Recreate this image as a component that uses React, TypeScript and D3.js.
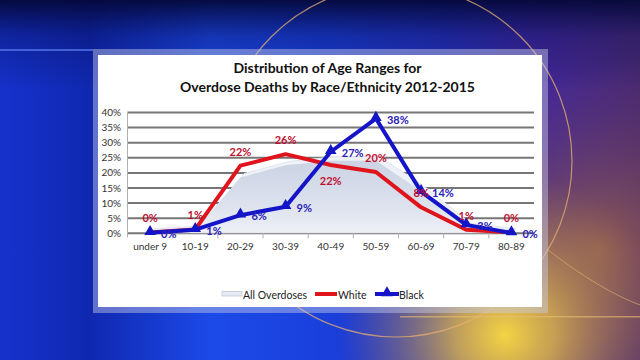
import * as d3 from 'd3';

const CATEGORIES = ['under 9', '10-19', '20-29', '30-39', '40-49', '50-59', '60-69', '70-79', '80-89'];
const ALL_OVERDOSES = [0.3, 1, 18.5, 22.5, 24, 24, 14, 2, 0.2];
const WHITE = [0.3, 1.3, 22.4, 26.2, 22.6, 20.3, 8.6, 1.2, 0.3];
const BLACK = [0.2, 1.2, 6, 8.8, 27, 38, 13.8, 2.8, 0.1];
const WHITE_LABELS = ['0%', '1%', '22%', '26%', '22%', '20%', '8%', '1%', '0%'];
const BLACK_LABELS = ['0%', '1%', '6%', '9%', '27%', '38%', '14%', '3%', '0%'];
const Y_TICKS = [0, 5, 10, 15, 20, 25, 30, 35, 40];
const TITLE = ['Distribution of Age Ranges for', 'Overdose Deaths by Race/Ethnicity 2012-2015'];

const W = 640;
const H = 360;
const PLOT = { left: 127.5, right: 534, top: 112.5, bottom: 233.3 };
const FONT = 'Lato, "Open Sans", sans-serif';
const RED = '#e0141c';
const BLUE = '#1414c8';

export default function App() {
  const x = d3.scaleBand().domain(CATEGORIES).range([PLOT.left, PLOT.right]);
  const y = d3.scaleLinear().domain([0, 40]).range([PLOT.bottom, PLOT.top]);
  const cx = (i: number) => (x(CATEGORIES[i]) as number) + x.bandwidth() / 2;

  const line = d3.line<number>().x((_, i) => cx(i)).y(d => y(d));
  const area = d3.area<number>().x((_, i) => cx(i)).y0(y(0)).y1(d => y(d));
  const tri = d3.symbol().type(d3.symbolTriangle).size(58)();

  // the white series label goes under the point where the lines cross
  const belowIdx = new Set([4]);

  return (
    <svg width={W} height={H} style={{ position: 'absolute', left: 0, top: 0 }}>
      <defs>
        <linearGradient id="bgH" x1="0" x2="1" y1="0" y2="0">
          <stop offset="0" stopColor="#1632cc" />
          <stop offset="0.14" stopColor="#1028b0" />
          <stop offset="0.33" stopColor="#1c4ae8" />
          <stop offset="0.5" stopColor="#1a40dc" />
          <stop offset="0.7" stopColor="#2832bc" />
          <stop offset="0.84" stopColor="#42289c" />
          <stop offset="1" stopColor="#4a2a70" />
        </linearGradient>
        <linearGradient id="bgTop" x1="0" x2="0" y1="0" y2="1">
          <stop offset="0" stopColor="#040838" stopOpacity="0.95" />
          <stop offset="0.1" stopColor="#060c50" stopOpacity="0.35" />
          <stop offset="0.25" stopColor="#060c50" stopOpacity="0" />
        </linearGradient>
        <radialGradient id="glow" cx="505" cy="335" r="165" gradientUnits="userSpaceOnUse">
          <stop offset="0" stopColor="#f4d444" stopOpacity="1" />
          <stop offset="0.3" stopColor="#e0b848" stopOpacity="0.8" />
          <stop offset="1" stopColor="#a07050" stopOpacity="0" />
        </radialGradient>
        <radialGradient id="brown" cx="600" cy="250" r="180" gradientUnits="userSpaceOnUse">
          <stop offset="0" stopColor="#946050" stopOpacity="0.95" />
          <stop offset="1" stopColor="#6a3a60" stopOpacity="0" />
        </radialGradient>
        <linearGradient id="areaFill" x1="0" x2="0" y1="0" y2="1">
          <stop offset="0" stopColor="#c8d0e2" />
          <stop offset="0.6" stopColor="#dae0ec" />
          <stop offset="1" stopColor="#eef0f6" />
        </linearGradient>
      </defs>

      {/* TV backdrop */}
      <rect width={W} height={H} fill="url(#bgH)" />
      <rect width={W} height={H} fill="url(#brown)" />
      <rect width={W} height={H} fill="url(#glow)" />
      <rect width={W} height={H} fill="url(#bgTop)" />
      <rect x={0} y={49} width={93} height={2} fill="#5a7af0" opacity={0.7} />
      <rect x={400} y={316} width={240} height={1.5} fill="#e8c070" opacity={0.6} />
      <circle cx={396} cy={161} r={176} fill="none" stroke="#e8b070" strokeWidth={1.2} opacity={0.75} />
      <path d="M548,250 Q600,290 640,305" fill="none" stroke="#e8b070" strokeWidth={1} opacity={0.6} />

      {/* chart panel */}
      <rect x={93} y={49} width={455} height={264} fill="#c8cce8" opacity={0.45} />
      <rect x={98} y={55} width={444} height={252} fill="#ffffff" />

      {TITLE.map((t, i) => (
        <text key={t} x={327.5} y={73 + i * 18.5} textAnchor="middle" fontFamily={FONT}
          fontWeight={700} fontSize={14} fill="#111">{t}</text>
      ))}

      {/* gridlines */}
      {Y_TICKS.map(t => (
        <g key={t}>
          <line x1={PLOT.left} x2={PLOT.right} y1={y(t)} y2={y(t)} stroke="#767676" strokeWidth={2} />
          <text x={121} y={y(t) + 3.5} textAnchor="end" fontFamily={FONT} fontSize={10} fill="#333">{t}%</text>
        </g>
      ))}
      <line x1={PLOT.left} x2={PLOT.left} y1={PLOT.top} y2={PLOT.bottom + 4} stroke="#b0b0b0" strokeWidth={1} />
      {CATEGORIES.map((c, i) => (
        <g key={c}>
          <line x1={(x(c) as number) + x.bandwidth()} x2={(x(c) as number) + x.bandwidth()}
            y1={PLOT.bottom} y2={PLOT.bottom + 5} stroke="#b0b0b0" strokeWidth={1} />
          <text x={cx(i)} y={250} textAnchor="middle" fontFamily={FONT} fontSize={10} fill="#333">{c}</text>
        </g>
      ))}

      {/* All overdoses: 3D-looking area */}
      <path d={area(ALL_OVERDOSES) ?? ''} transform="translate(4,-4)" fill="#eef1f7" stroke="#e2e6ef" strokeWidth={1} />
      <path d={area(ALL_OVERDOSES) ?? ''} fill="url(#areaFill)" opacity={0.92} />

      {/* White */}
      <path d={line(WHITE) ?? ''} fill="none" stroke={RED} strokeWidth={4} strokeLinejoin="round" />

      {/* Black */}
      <path d={line(BLACK) ?? ''} fill="none" stroke={BLUE} strokeWidth={4} strokeLinejoin="round" />
      {BLACK.map((v, i) => (
        <path key={i} d={tri ?? ''} transform={`translate(${cx(i)},${y(v) - 1})`} fill={BLUE} />
      ))}

      {/* labels */}
      {WHITE.map((v, i) => (
        <text key={'w' + i} x={cx(i)} y={belowIdx.has(i) ? y(v) + 20 : y(v) - 10} textAnchor="middle"
          fontFamily={FONT} fontWeight={700} fontSize={11} fill="#c01030">{WHITE_LABELS[i]}</text>
      ))}
      {BLACK.map((v, i) => (
        <text key={'b' + i} x={cx(i) + 11} y={y(v) + 5} textAnchor="start"
          fontFamily={FONT} fontWeight={700} fontSize={11} fill="#2a22b8">{BLACK_LABELS[i]}</text>
      ))}

      {/* legend */}
      <g fontFamily={FONT} fontSize={10.5} fill="#222">
        <rect x={222} y={291.5} width={20} height={4.5} fill="#e6e9f2" stroke="#c4c8d4" strokeWidth={0.8} />
        <text x={243} y={298.5}>All Overdoses</text>
        <line x1={315} x2={337} y1={294} y2={294} stroke={RED} strokeWidth={4} />
        <text x={338} y={298.5}>White</text>
        <line x1={375} x2={399} y1={294} y2={294} stroke={BLUE} strokeWidth={4} />
        <path d={tri ?? ''} transform="translate(387,293)" fill={BLUE} />
        <text x={399} y={298.5}>Black</text>
      </g>
    </svg>
  );
}
